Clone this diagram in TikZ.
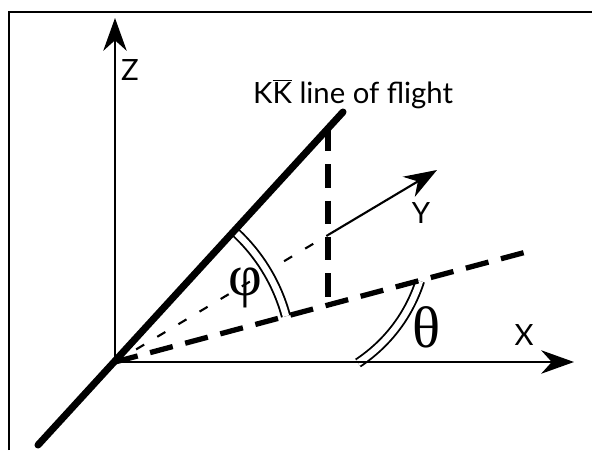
\documentclass[tikz,border=0pt]{standalone}
\usepackage{fontspec}
\setmainfont{Lato}
\newfontfamily\greekfont{Liberation Serif}
\usetikzlibrary{arrows.meta}

\begin{document}
\begin{tikzpicture}[
        x=0.03cm, y=-0.03cm,
        axis/.style={line width=2pt, -{Stealth[length=28pt, width=20pt, inset=9pt]}},
        flight/.style={line width=6pt, line cap=round},
        thickdash/.style={line width=4.5pt, dash pattern=on 20pt off 11pt},
        thindash/.style={line width=1.8pt, dash pattern=on 8pt off 13pt},
        anglearc/.style={line width=1.6pt, double, double distance=5.5pt},
        lbl/.style={font=\fontsize{25}{29}\selectfont, inner sep=0pt},
        greek/.style={font=\greekfont\fontsize{50}{56}\selectfont, inner sep=0pt}
    ]
    \useasboundingbox (0,0) rectangle (592,450);

    % Frame
    \coordinate (fbl) at (9,450);
    \coordinate (ftl) at (9,12);
    \coordinate (ftr) at (592,12);
    \draw[line width=1.8pt] (fbl) -- (ftl) -- (ftr);

    % Points
    \coordinate (O) at (115,362);
    \coordinate (ztip) at (115,18);
    \coordinate (xtip) at (574,362);
    \coordinate (ybase) at (328,235);
    \coordinate (ytip) at (437,170);
    \coordinate (ktop) at (343,112);
    \coordinate (kbot) at (38,445);
    \coordinate (kfoot) at (328,128);
    \coordinate (pfoot) at (328,305);
    \coordinate (pend) at (530,251);
    \coordinate (tha) at (358,363);
    \coordinate (thb) at (420,281);

    % Hidden part of Y
    \draw[thindash] (O) -- (ybase);

    % Angles
    \draw[anglearc] ([shift={(-15:177)}]O) arc[start angle=-15, end angle=-47.5, radius=177];
    \draw[anglearc] (tha) .. controls (385,345) and (408,318) .. (thb);

    % Axes
    \draw[axis] (O) -- (ztip);
    \draw[axis] (O) -- (xtip);
    \draw[axis, line width=1.8pt] (ybase) -- (ytip);

    % Projections
    \draw[thickdash] (O) -- (pend);
    \draw[thickdash] (kfoot) -- (pfoot);

    % Line of flight
    \draw[flight] (kbot) -- (ktop);

    % Labels
    \node[lbl] (zlbl) at (130,70) {Z};
    \node[lbl] (ylbl) at (421,213) {Y};
    \node[lbl] (xlbl) at (524,335) {X};
    \node[lbl, anchor=base west] (klbl) at (253,103) {K$\overline{\mbox{K}}$ line of flight};
    \node[greek] (phi) at (245,288) {φ};
    \node[greek] (theta) at (427,327) {θ};

\end{tikzpicture}
\end{document}
